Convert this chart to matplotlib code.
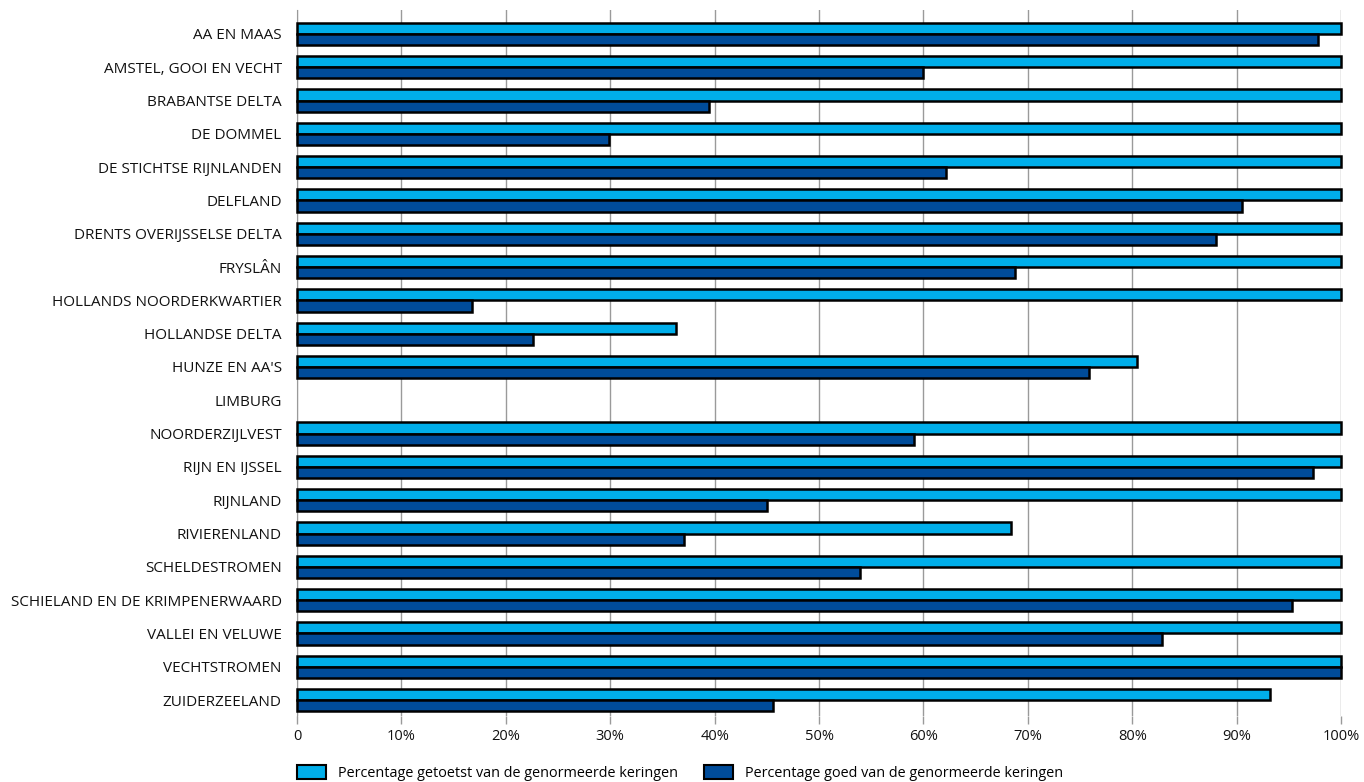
import matplotlib.pyplot as plt
from matplotlib.patches import Patch
import numpy as np

plt.rcParams['font.family'] = ['Open Sans', 'DejaVu Sans']

categories = [
    "AA EN MAAS", "AMSTEL, GOOI EN VECHT", "BRABANTSE DELTA", "DE DOMMEL",
    "DE STICHTSE RIJNLANDEN", "DELFLAND", "DRENTS OVERIJSSELSE DELTA",
    "FRYSLÂN", "HOLLANDS NOORDERKWARTIER", "HOLLANDSE DELTA", "HUNZE EN AA'S",
    "LIMBURG", "NOORDERZIJLVEST", "RIJN EN IJSSEL", "RIJNLAND",
    "RIVIERENLAND", "SCHELDESTROMEN", "SCHIELAND EN DE KRIMPENERWAARD",
    "VALLEI EN VELUWE", "VECHTSTROMEN", "ZUIDERZEELAND",
]
getoetst = [100, 100, 100, 100, 100, 100, 100, 100, 100, 36.3, 80.5,
            0, 100, 100, 100, 68.4, 100, 100, 100, 100, 93.2]
goed = [97.8, 60.0, 39.5, 29.9, 62.2, 90.5, 88.0, 68.8, 16.8, 22.6, 75.9,
        0, 59.1, 97.3, 45.0, 37.1, 53.9, 95.3, 82.9, 100, 45.6]
series_labels = ["Percentage getoetst van de genormeerde keringen",
                 "Percentage goed van de genormeerde keringen"]
light = "#00AEEA"
dark = "#004C9A"

fig = plt.figure(figsize=(13.64, 7.82), dpi=100)
ax = fig.add_axes([297 / 1364, 1 - 716 / 782, (1341 - 297) / 1364, (716 - 10) / 782])

y = np.arange(len(categories))
h = 0.335
for vals, off, col in [(getoetst, -h / 2, light), (goed, h / 2, dark)]:
    v = np.array(vals, dtype=float)
    m = v > 0
    ax.barh(y[m] + off, v[m], height=h, color=col, edgecolor="black",
            linewidth=1.8, zorder=3, clip_on=False)

ax.set_ylim(20.48, -0.72)
ax.set_xlim(0, 100)
ax.set_yticks(y)
ax.set_yticklabels(categories, fontsize=11, color="#111111", fontweight="medium")
ax.set_xticks(np.arange(0, 101, 10))
ax.set_xticklabels(["0"] + [f"{v}%" for v in range(10, 101, 10)], fontsize=10.5,
                   color="#111111", fontweight="medium")
ax.tick_params(axis="y", length=0, pad=11)
ax.tick_params(axis="x", length=6, color="#9a9a9a", width=1, pad=3)
ax.grid(axis="x", color="#9a9a9a", linewidth=1, zorder=0)
for s in ["top", "right", "bottom"]:
    ax.spines[s].set_visible(False)
ax.spines["left"].set_color("#9a9a9a")

handles = [Patch(facecolor=light, edgecolor="black", linewidth=1.5),
           Patch(facecolor=dark, edgecolor="black", linewidth=1.5)]
fig.legend(handles, series_labels, loc="center left", bbox_to_anchor=(284 / 1364, 1 - 773 / 782),
           ncol=2, frameon=False, fontsize=10.4, handlelength=2.0, handleheight=1.1,
           handletextpad=0.85, columnspacing=1.8)

fig.savefig("out.png", dpi=100)
